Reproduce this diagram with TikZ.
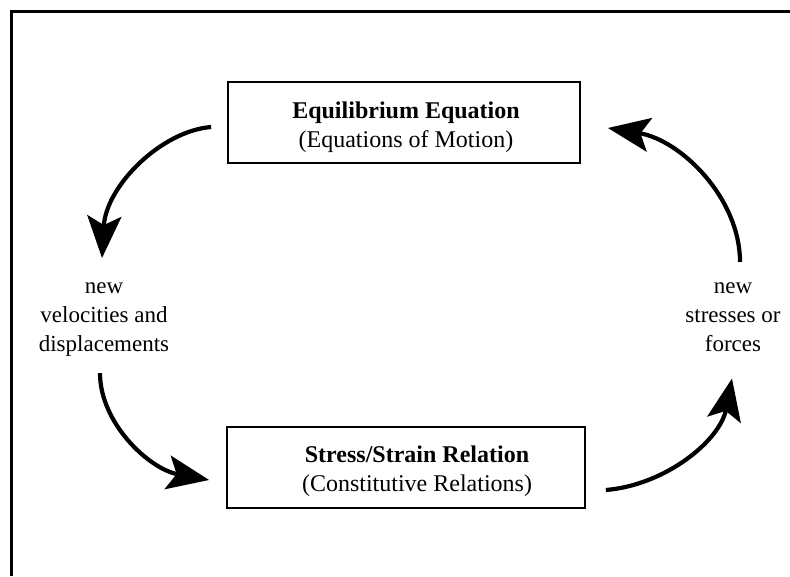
\documentclass[tikz,border=0pt]{standalone}
\usepackage{fontspec}
\setmainfont{Liberation Serif}
\usetikzlibrary{arrows.meta,calc}

\tikzset{
  frameline/.style={line width=3pt},
  boxframe/.style={draw, line width=1.8pt, rectangle, inner sep=0pt},
  boxtext/.style={align=center, inner sep=0pt, anchor=north,
                  font=\fontsize{24}{29}\selectfont},
  sidetext/.style={align=center, inner sep=0pt, anchor=north,
                   font=\fontsize{23}{29}\selectfont},
  flow/.style={line width=4.2pt,
               -{Stealth[length=42pt,width=34pt,inset=9pt]}},
}

\begin{document}
\begin{tikzpicture}[x=1pt,y=-1pt]
  \useasboundingbox (0,0) rectangle (790,576);

  % outer frame (only top and left edges fall inside the page)
  \draw[frameline] (11,576) -- (11,11) -- (790,11);

  % the two process boxes
  \node[boxframe, minimum width=352pt, minimum height=81pt] (eq) at (404,122.5) {};
  \node[boxtext] (eqt) at (406,102)
       {\textbf{Equilibrium Equation}\\(Equations of Motion)};

  \node[boxframe, minimum width=358pt, minimum height=81pt] (ss) at (406,467.5) {};
  \node[boxtext] (sst) at (417,446)
       {\textbf{Stress/Strain Relation}\\(Constitutive Relations)};

  % intermediate quantities
  \node[sidetext] (vel) at (104,282) {new\\velocities and\\displacements};
  \node[sidetext] (str) at (733,282) {new\\stresses or\\forces};

  % the cycle
  \draw[flow] ($(eq.west)+(-16,4.5)$)
      .. controls +(-50,4) and +(4,-72) .. ($(vel.north)+(-2,-24)$);
  \draw[flow] ($(vel.south)+(-4,17)$)
      .. controls +(0,50) and +(-60,-11) .. ($(ss.west)+(-17,12.5)$);
  \draw[flow] ($(ss.east)+(20,22.5)$)
      .. controls +(60,-5) and +(-12,62) .. ($(str.south)+(-1,27)$);
  \draw[flow] ($(str.north)+(7,-20)$)
      .. controls +(0,-64) and +(73,12) .. ($(eq.east)+(27,5.5)$);
\end{tikzpicture}
\end{document}
